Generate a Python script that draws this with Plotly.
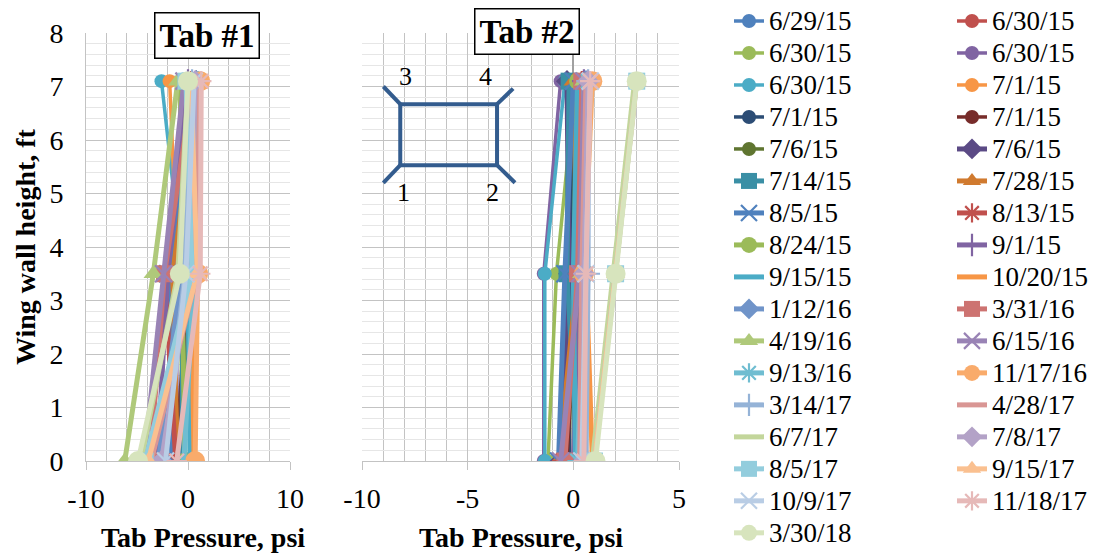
import plotly.graph_objects as go

# ---------------- data ----------------
dates = ["6/29/15", "6/30/15", "6/30/15", "6/30/15", "6/30/15", "7/1/15", "7/1/15", "7/1/15",
         "7/6/15", "7/6/15", "7/14/15", "7/28/15", "8/5/15", "8/13/15", "8/24/15", "9/1/15",
         "9/15/15", "10/20/15", "1/12/16", "3/31/16", "4/19/16", "6/15/16", "9/13/16", "11/17/16",
         "3/14/17", "4/28/17", "6/7/17", "7/8/17", "8/5/17", "9/15/17", "10/9/17", "11/18/17",
         "3/30/18"]

heights = [0, 3.5, 7.1]  # wing wall height, ft

# Tab #1 pressures (psi) at the three heights
tab1_bottom = [-2.0, -1.5, -0.5, -1.0, 0.3, -1.3, -0.8, -1.2, -0.9, -1.0, -0.6, -1.0, -1.5, -1.2, -0.3, -3.0,
               0.2, 0.6, -2.9, -3.7, -6.2, -4.3, -0.4, 0.7, -2.4, -3.6, -4.6, -2.6, -4.2, -3.9, -2.2, -1.1,
               -4.9]
tab1_middle = [-1.0, -1.5, -0.8, -1.2, -0.5, -1.0, 0.2, 0.0, 0.5, -2.2, -0.5, -1.6, -2.0, -2.3, -0.6, -2.0,
               0.0, 0.3, -0.7, -2.3, -3.4, -2.4, 0.6, 1.0, -0.3, 0.9, -1.0, 0.2, 0.4, 0.9, -0.2, 1.2,
               -0.8]
tab1_top = [0.6, -0.5, -0.8, -0.3, -2.6, -1.8, 1.0, 0.9, 1.0, 0.8, 0.2, 0.4, 0.5, 0.3, -0.3, 0.0,
            0.5, 0.9, 0.8, 0.5, -1.0, -0.4, 1.0, 1.2, 0.4, 1.1, 0.0, 0.7, -0.2, 0.3, 0.6, 1.3,
            0.0]

# Tab #2 pressures (psi) at the three heights
tab2_bottom = [-0.4, -0.5, -1.2, -1.4, -1.35, 0.3, -0.2, -0.3, 0.0, -0.6, 0.2, -0.7, -0.7, -0.5, 0.5, 0.0,
               0.1, 0.9, 0.4, -0.4, 0.3, -0.6, 0.2, 0.6, 0.6, 0.3, 0.9, 0.5, 1.0, 1.0, 0.4, 0.5,
               1.05]
tab2_middle = [-0.2, 0.1, -0.8, -1.4, -1.35, 0.4, -0.1, 0.2, 0.0, -0.2, -0.3, 0.2, -0.4, 0.3, 0.2, 0.3,
               0.0, 0.6, 0.5, 0.2, 0.4, 0.3, 0.5, 0.5, 0.7, 0.4, 1.9, 0.5, 2.0, 2.0, 0.6, 0.6,
               2.0]
tab2_top = [0.0, 0.3, 0.1, -0.6, -0.4, 0.6, -0.1, 0.2, 0.1, -0.3, -0.2, 0.0, 0.0, 0.4, 0.2, 0.5,
            0.2, 0.7, 0.6, 0.4, 0.5, 0.5, 0.7, 0.9, 0.7, 0.6, 2.9, 0.7, 3.0, 3.0, 0.8, 0.8,
            3.0]

# x-axis tick values and labels
tab1_ticks = [-10, 0, 10]
tab1_ticktext = ["-10", "0", "10"]
tab2_ticks = [-10, -5, 0, 5]
tab2_ticktext = ["-10", "-5", "0", "5"]

# ---------------- styles ----------------
colors = ["#4F81BD", "#C0504D", "#9BBB59", "#8064A2", "#4BACC6", "#F79646", "#2C4D75", "#772C2A",
          "#5F7530", "#5B4A85", "#3A8FA5", "#D07A2F", "#4F81BD", "#C0504D", "#9BBB59", "#8064A2",
          "#4BACC6", "#F79646", "#7094C9", "#CD7371", "#AFC97A", "#9983B5", "#6FBDD1", "#F9AB6B",
          "#95B3D7", "#D99694", "#C3D69B", "#B3A2C7", "#93CDDD", "#FAC090", "#B9CDE5", "#E6B9B8",
          "#D7E4BD"]
symbols = ["circle"] * 9 + ["diamond", "square", "triangle-up", "x-thin-open", "asterisk-open",
                            "circle", "cross-thin-open", None, None,
                            "diamond", "square", "triangle-up", "x-thin-open", "asterisk-open",
                            "circle", "cross-thin-open", None, None,
                            "diamond", "square", "triangle-up", "x-thin-open", "asterisk-open",
                            "circle"]

FONT = "Liberation Serif, Times New Roman, serif"
GRID = "#C3C3C3"
MINOR = "#E6E6E6"

fig = go.Figure()


def add_series(i, xs, xa, ya, show):
    sym = symbols[i]
    lw = 3.5 if i < 9 else 5
    msize = 14 if i < 9 else 17
    if i in (23, 32):
        msize = 20
    kw = dict(x=xs, y=heights, xaxis=xa, yaxis=ya,
              name='<span style="font-size:27px">' + dates[i] + '</span>',
              legend="legend" if i % 2 == 0 else "legend2",
              showlegend=show,
              line=dict(color=colors[i], width=lw))
    if sym is None:
        kw["mode"] = "lines"
    else:
        kw["mode"] = "lines+markers"
        if sym.endswith("open"):
            kw["marker"] = dict(symbol=sym, size=msize, color=colors[i], line=dict(width=2.2, color=colors[i]))
        else:
            kw["marker"] = dict(symbol=sym, size=msize, color=colors[i], line=dict(width=0))
    fig.add_trace(go.Scatter(**kw))


for i in range(len(dates)):
    add_series(i, [tab1_bottom[i], tab1_middle[i], tab1_top[i]], "x", "y", True)
for i in range(len(dates)):
    add_series(i, [tab2_bottom[i], tab2_middle[i], tab2_top[i]], "x2", "y2", False)

W, H = 1100, 556
ydom = [1 - 461 / H, 1 - 33 / H]
tickfont = dict(family=FONT, size=28, color="black")

fig.update_layout(
    template="none",
    width=W, height=H, margin=dict(l=0, r=0, t=0, b=0, autoexpand=False),
    paper_bgcolor="white", plot_bgcolor="white",
    font=dict(family=FONT, color="black"),
    xaxis=dict(domain=[86 / W, 290 / W], range=[-10, 10], tickvals=tab1_ticks, ticktext=tab1_ticktext,
               showgrid=True, gridcolor=GRID, gridwidth=1,
               minor=dict(dtick=2, tick0=-10, showgrid=True, gridcolor=GRID, ticks=""),
               ticks="outside", ticklen=8, tickcolor=GRID, showline=True, linecolor=GRID,
               zeroline=False, tickfont=tickfont, ticklabelstandoff=4, anchor="y", automargin=False),
    yaxis=dict(domain=ydom, range=[0, 8], dtick=1, showgrid=True, gridcolor=GRID,
               minor=dict(dtick=0.2, showgrid=True, gridcolor=MINOR, ticks=""),
               showline=True, linecolor=GRID, zeroline=False, ticks="",
               tickfont=tickfont, ticklabelstandoff=16, anchor="x", automargin=False),
    xaxis2=dict(domain=[362 / W, 679 / W], range=[-10, 5], tickvals=tab2_ticks, ticktext=tab2_ticktext,
                showgrid=True, gridcolor=GRID, gridwidth=1,
                minor=dict(dtick=1, tick0=-10, showgrid=True, gridcolor=GRID, ticks=""),
                ticks="outside", ticklen=8, tickcolor=GRID, showline=True, linecolor=GRID,
                zeroline=True, zerolinecolor="#A0A0A0", zerolinewidth=1.5,
                tickfont=tickfont, ticklabelstandoff=4, anchor="y2", automargin=False),
    yaxis2=dict(domain=ydom, range=[0, 8], dtick=1, showgrid=True, gridcolor=GRID,
                minor=dict(dtick=0.2, showgrid=True, gridcolor=MINOR, ticks=""),
                showline=False, zeroline=False, showticklabels=False, ticks="", anchor="x2",
                automargin=False),
    legend=dict(x=729 / W, y=1, xanchor="left", yanchor="top", bgcolor="rgba(0,0,0,0)",
                borderwidth=0, font=dict(family=FONT, size=22.3, color="black")),
    legend2=dict(x=952 / W, y=1, xanchor="left", yanchor="top", bgcolor="rgba(0,0,0,0)",
                 borderwidth=0, font=dict(family=FONT, size=22.3, color="black")),
)

# axis titles and panel titles
annotations = [
    dict(text="<b>Wing wall height, ft</b>", x=25 / W, y=1 - 247 / H, textangle=-90,
         font=dict(family=FONT, size=28, color="black")),
    dict(text="<b>Tab Pressure, psi</b>", x=203 / W, y=1 - 537 / H,
         font=dict(family=FONT, size=28, color="black")),
    dict(text="<b>Tab Pressure, psi</b>", x=521 / W, y=1 - 537 / H,
         font=dict(family=FONT, size=28, color="black")),
    dict(text="<b>Tab #1</b>", x=207 / W, y=1 - 35 / H, bgcolor="white", bordercolor="black",
         borderwidth=1.5, borderpad=4, font=dict(family=FONT, size=33, color="black")),
    dict(text="<b>Tab #2</b>", x=527 / W, y=1 - 32 / H, bgcolor="white", bordercolor="black",
         borderwidth=1.5, borderpad=4, font=dict(family=FONT, size=33, color="black")),
]
for a in annotations:
    a.update(xref="paper", yref="paper", showarrow=False, xanchor="center", yanchor="middle")
    fig.add_annotation(**a)

# inset sketch of the tab layout (in Tab #2 panel)
SK = "#335C8E"
rect_x = [-8.19, -3.61]
rect_y = [5.53, 6.67]
fig.add_shape(type="rect", xref="x2", yref="y2", x0=rect_x[0], x1=rect_x[1], y0=rect_y[0], y1=rect_y[1],
              line=dict(color=SK, width=4))
corner_ends = [(rect_x[0], rect_y[1], -8.99, 7.0), (rect_x[1], rect_y[1], -2.85, 6.96),
               (rect_x[0], rect_y[0], -8.99, 5.20), (rect_x[1], rect_y[0], -2.76, 5.20)]
for x0, y0, x1, y1 in corner_ends:
    fig.add_shape(type="line", xref="x2", yref="y2", x0=x0, y0=y0, x1=x1, y1=y1,
                  line=dict(color=SK, width=4))
for lbl, lx, ly in [("3", -7.95, 7.18), ("4", -4.16, 7.18), ("1", -8.03, 5.01), ("2", -3.82, 5.01)]:
    fig.add_annotation(text=lbl, x=lx, y=ly, xref="x2", yref="y2", showarrow=False,
                       font=dict(family=FONT, size=26, color="black"))

fig.write_html("out.html", config={"displayModeBar": False},
               post_script="document.body.style.margin='0';document.body.style.overflow='hidden';")
